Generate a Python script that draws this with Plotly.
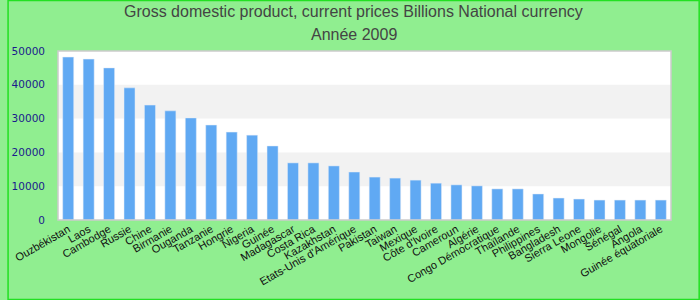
import plotly.graph_objects as go

countries = ["Ouzbékistan", "Laos", "Cambodge", "Russie", "Chine", "Birmanie", "Ouganda",
             "Tanzanie", "Hongrie", "Nigeria", "Guinée", "Madagascar", "Costa Rica",
             "Kazakhstan", "Etats-Unis d'Amérique", "Pakistan", "Taiwan", "Mexique",
             "Côte d'Ivoire", "Cameroun", "Algérie", "Congo Démocratique", "Thaïlande",
             "Philippines", "Bangladesh", "Sierra Leone", "Mongolie", "Sénégal", "Angola",
             "Guinée équatoriale"]
gdp = [48200, 47600, 45000, 39100, 34000, 32300, 30200, 28100, 26000, 25100, 21900,
       16900, 16900, 16000, 14200, 12700, 12400, 11800, 10900, 10400, 10100, 9200, 9200,
       7700, 6500, 6200, 5900, 5900, 5900, 5900]
y_ticks = [0, 10000, 20000, 30000, 40000, 50000]
y_tick_labels = [str(v) for v in y_ticks]
title_line1 = "Gross domestic product, current prices Billions National currency"
title_line2 = "Année 2009"

fig = go.Figure(go.Bar(x=countries, y=gdp, marker_color="#60a9f3", width=0.54))

shapes = []
for lo, hi in [(10000, 20000), (30000, 40000)]:
    shapes.append(dict(type="rect", xref="paper", yref="y", x0=0, x1=1, y0=lo, y1=hi,
                       fillcolor="#f2f2f2", line_width=0, layer="below"))
shapes.append(dict(type="rect", xref="paper", yref="paper", x0=0, x1=1, y0=0, y1=1,
                   line=dict(color="#cccccc", width=1.5), fillcolor="rgba(0,0,0,0)"))
shapes.append(dict(type="rect", xref="paper", yref="paper", x0=-50.5/620, x1=(699.5-51)/620,
                   y0=-79.5/169, y1=(220-0.5)/169, line=dict(color="#22e022", width=1.5),
                   fillcolor="rgba(0,0,0,0)"))

title_font = dict(family="Liberation Sans, Arial", size=16, color="#444444")
annotations = [
    dict(text=title_line1, xref="paper", yref="paper", x=(350-51)/620, y=(220-12)/169,
         xanchor="center", yanchor="middle", showarrow=False, font=title_font),
    dict(text=title_line2, xref="paper", yref="paper", x=(350-51)/620, y=(220-35)/169,
         xanchor="center", yanchor="middle", showarrow=False, font=title_font),
]

fig.update_layout(
    width=700, height=300,
    margin=dict(l=51, r=29, t=51, b=80),
    paper_bgcolor="#90ee90", plot_bgcolor="#ffffff",
    showlegend=False,
    shapes=shapes,
    annotations=annotations,
)
fig.update_xaxes(tickangle=-30, tickfont=dict(family="Liberation Sans, Arial", size=11, color="#111111"),
                 showgrid=False, ticks="", showline=False)
fig.update_yaxes(range=[0, 50000], tickvals=y_ticks, ticktext=y_tick_labels,
                 showgrid=False, zeroline=False,
                 tickfont=dict(family="DejaVu Sans", size=10.5, color="#1a1a8c"),
                 ticklabelstandoff=12)

fig.write_html("out.html")
